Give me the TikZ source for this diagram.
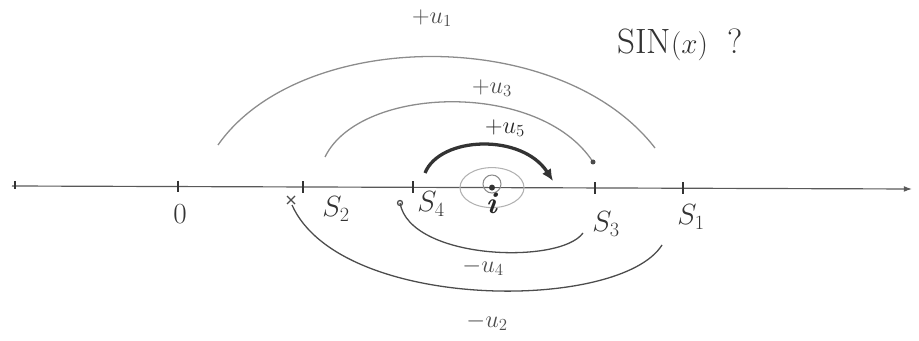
\documentclass[tikz,border=0pt]{standalone}
\usetikzlibrary{arrows.meta}
\begin{document}
\begin{tikzpicture}[x=0.03cm,y=-0.03cm,
  axis/.style={draw=black!65, line width=1pt},
  tick/.style={draw=black!80, line width=1.6pt},
  lightarc/.style={draw=black!45, line width=1.1pt},
  darkarc/.style={draw=black!70, line width=1.1pt},
  boldarc/.style={draw=black!80, line width=2.8pt},
  lbl/.style={text=black!80, font=\fontsize{25}{27}\selectfont, inner sep=0pt},
  smalllbl/.style={text=black!70, font=\fontsize{20}{22}\selectfont, inner sep=0pt}]
\useasboundingbox (0,0) rectangle (919,341);
% axis
\coordinate (L) at (12,186);
\coordinate (R) at (912,189);
\draw[axis, -{Latex[length=7pt,width=5pt]}] (L) -- (R);
\draw[tick] (15,181) -- (15,189);
% tick positions
\coordinate (t0) at (178,186.6);
\coordinate (s2) at (303,187.0);
\coordinate (s4) at (413,187.3);
\coordinate (ci) at (492,187.6);
\coordinate (s3) at (595,187.9);
\coordinate (s1) at (683,188.2);
\foreach \p in {t0,s2,s4,s3,s1}{
  \draw[tick] ([yshift=5pt]\p) -- ([yshift=-5pt]\p);
}
% labels on axis
\node[lbl] (l0) at (180,214) {$0$};
\node[lbl] (ls2) at (336,209) {$S_2$};
\node[lbl] (ls4) at (431,204) {$S_4$};
\node[lbl] (ls3) at (606,224) {$S_3$};
\node[lbl] (ls1) at (691,217) {$S_1$};
% centre i and its loops
\draw[draw=black!30, line width=0.9pt] (ci) ellipse [x radius=32, y radius=20];
\draw[draw=black!45, line width=0.9pt] (492,184) circle [radius=9];
\fill[black!80] (ci) circle [radius=3];
\node[text=black!85, font=\fontsize{26}{28}\bfseries\selectfont, inner sep=0pt] (li) at (492,203) {\textbf{\textit{i}}};
% upper arcs
\coordinate (a1s) at (218,145);
\coordinate (a1e) at (655,148);
\draw[lightarc] (a1s) .. controls (300,28) and (560,25) .. (a1e);
\node[smalllbl] (lu1) at (432,18) {$+u_1$};
\coordinate (a3s) at (325,157);
\coordinate (a3e) at (593,162);
\draw[lightarc] (a3s) .. controls (360,85) and (540,80) .. (a3e);
\fill[black!70] (a3e) circle [radius=2.5];
\node[smalllbl] (lu3) at (492,88) {$+u_3$};
\coordinate (a5s) at (425,173);
\coordinate (a5e) at (553,181);
\draw[boldarc, -{Latex[length=10pt,width=9pt]}] (a5s) .. controls (440,136) and (522,133) .. (a5e);
\node[smalllbl, text=black!85] (lu5) at (505,128) {$+u_5$};
% lower arcs
\coordinate (b4s) at (400,203);
\coordinate (b4e) at (583,233);
\draw[darkarc] (b4s) .. controls (410,260) and (560,265) .. (b4e);
\draw[darkarc] (b4s) circle [radius=2.5];
\node[smalllbl] (lu4) at (483,267) {$-u_4$};
\coordinate (b2s) at (292,205);
\coordinate (b2e) at (662,245);
\draw[darkarc] (b2s) .. controls (340,312) and (620,312) .. (b2e);
\draw[darkarc] (287,196) -- (295,204) (295,196) -- (287,204);
\node[smalllbl] (lu2) at (487,322) {$-u_2$};
% text
\node[lbl, font=\fontsize{30}{32}\selectfont] (sinx) at (680,45) {SIN$(x)$\;\;?};
\end{tikzpicture}
\end{document}
